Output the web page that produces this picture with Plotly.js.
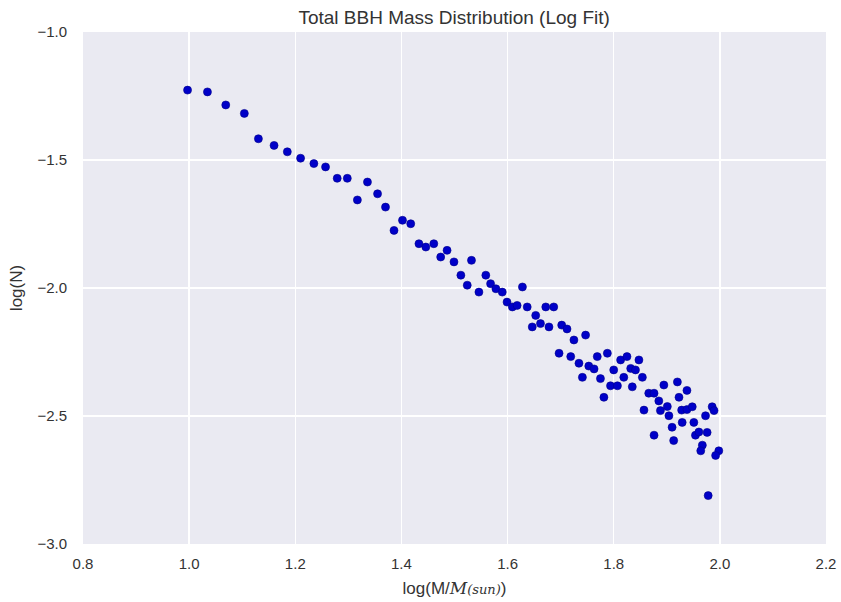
<!DOCTYPE html>
<html>
<head>
<meta charset="utf-8">
<script src="https://cdn.plot.ly/plotly-3.0.1.min.js"></script>
<style>html,body{margin:0;padding:0;background:#fff;}#chart{width:841px;height:602px;}</style>
</head>
<body>
<div id="chart"></div>
<script>
// log(M/M_sun) values
var logMass = [
  0.997, 1.0345, 1.069, 1.104, 1.1305, 1.160, 1.185, 1.210, 1.235, 1.257,
  1.279, 1.298, 1.317, 1.336, 1.355, 1.370, 1.386, 1.402, 1.4175, 1.433,
  1.446, 1.461, 1.474, 1.486, 1.499, 1.512, 1.524, 1.532, 1.546, 1.559,
  1.568, 1.578, 1.590, 1.599, 1.609, 1.618, 1.628, 1.637, 1.653, 1.6465,
  1.662, 1.672, 1.678, 1.687, 1.702, 1.712, 1.725, 1.747, 1.697, 1.719,
  1.7345, 1.753, 1.763, 1.769, 1.788, 1.741, 1.775, 1.800, 1.813, 1.825,
  1.832, 1.841, 1.819, 1.794, 1.807, 1.835, 1.8475, 1.854, 1.7815, 1.8945,
  1.920, 1.938, 1.866, 1.876, 1.885, 1.923, 1.857, 1.901, 1.928, 1.938,
  1.948, 1.9855, 1.888, 1.904, 1.989, 1.973, 1.910, 1.929, 1.951, 1.876,
  1.913, 1.954, 1.9605, 1.976, 1.967, 1.964, 1.998, 1.992, 1.978
];
// log(N) values
var logN = [
  -1.227, -1.234, -1.285, -1.318, -1.417, -1.443, -1.468, -1.493, -1.514, -1.527,
  -1.5715, -1.5715, -1.656, -1.586, -1.632, -1.684, -1.775, -1.7355, -1.749, -1.827,
  -1.840, -1.827, -1.879, -1.853, -1.898, -1.950, -1.989, -1.892, -2.016, -1.950,
  -1.983, -2.003, -2.016, -2.055, -2.074, -2.068, -1.996, -2.074, -2.107, -2.152,
  -2.139, -2.074, -2.152, -2.074, -2.145, -2.160, -2.203, -2.184, -2.255, -2.268,
  -2.294, -2.305, -2.316, -2.268, -2.255, -2.349, -2.354, -2.320, -2.281, -2.268,
  -2.314, -2.320, -2.349, -2.382, -2.382, -2.386, -2.281, -2.349, -2.427, -2.379,
  -2.367, -2.400, -2.411, -2.411, -2.441, -2.427, -2.477, -2.463, -2.477, -2.475,
  -2.464, -2.464, -2.479, -2.499, -2.479, -2.499, -2.544, -2.525, -2.525, -2.575,
  -2.596, -2.575, -2.5625, -2.564, -2.614, -2.636, -2.636, -2.654, -2.811
];
var xTicks = [0.8, 1.0, 1.2, 1.4, 1.6, 1.8, 2.0, 2.2];
var yTicks = [-1.0, -1.5, -2.0, -2.5, -3.0];

var trace = {
  x: logMass, y: logN, type: 'scatter', mode: 'markers',
  marker: {color: '#0000c8', size: 8, line: {color: '#00008a', width: 0.6}},
  hoverinfo: 'skip'
};
var fam = 'Liberation Sans, Arial, sans-serif';
var layout = {
  width: 841, height: 602,
  margin: {l: 83, r: 15, t: 32, b: 58},
  paper_bgcolor: '#ffffff', plot_bgcolor: '#eaeaf2',
  font: {family: fam, size: 15, color: '#333333'},
  showlegend: false,
  title: {text: 'Total BBH Mass Distribution (Log Fit)', x: 0.54, xanchor: 'center', y: 0.972, yanchor: 'middle',
          font: {family: fam, size: 19, color: '#333333'}},
  xaxis: {
    range: [0.8, 2.2], tickvals: xTicks, ticktext: xTicks.map(function(v){return v.toFixed(1);}),
    showgrid: true, gridcolor: '#ffffff', gridwidth: 1.5, zeroline: false, showline: false,
    ticks: 'outside', ticklen: 6, tickcolor: 'rgba(0,0,0,0)',
    tickfont: {family: fam, size: 15, color: '#333333'},
    title: {text: "log(M/<span style='font-family:DejaVu Serif'><i>M</i><span style='font-size:13px'><i>(sun)</i></span></span>)", standoff: 11,
            font: {family: fam, size: 17, color: '#333333'}}
  },
  yaxis: {
    range: [-3.0, -1.0], tickvals: yTicks, ticktext: yTicks.map(function(v){return '\u2212' + Math.abs(v).toFixed(1);}),
    showgrid: true, gridcolor: '#ffffff', gridwidth: 1.5, zeroline: false, showline: false,
    ticks: 'outside', ticklen: 12, tickcolor: 'rgba(0,0,0,0)',
    tickfont: {family: fam, size: 15, color: '#333333'},
    title: {text: 'log(N)', standoff: 10,
            font: {family: fam, size: 17, color: '#333333'}}
  }
};
Plotly.newPlot('chart', [trace], layout, {staticPlot: true, displayModeBar: false});
</script>
</body>
</html>
